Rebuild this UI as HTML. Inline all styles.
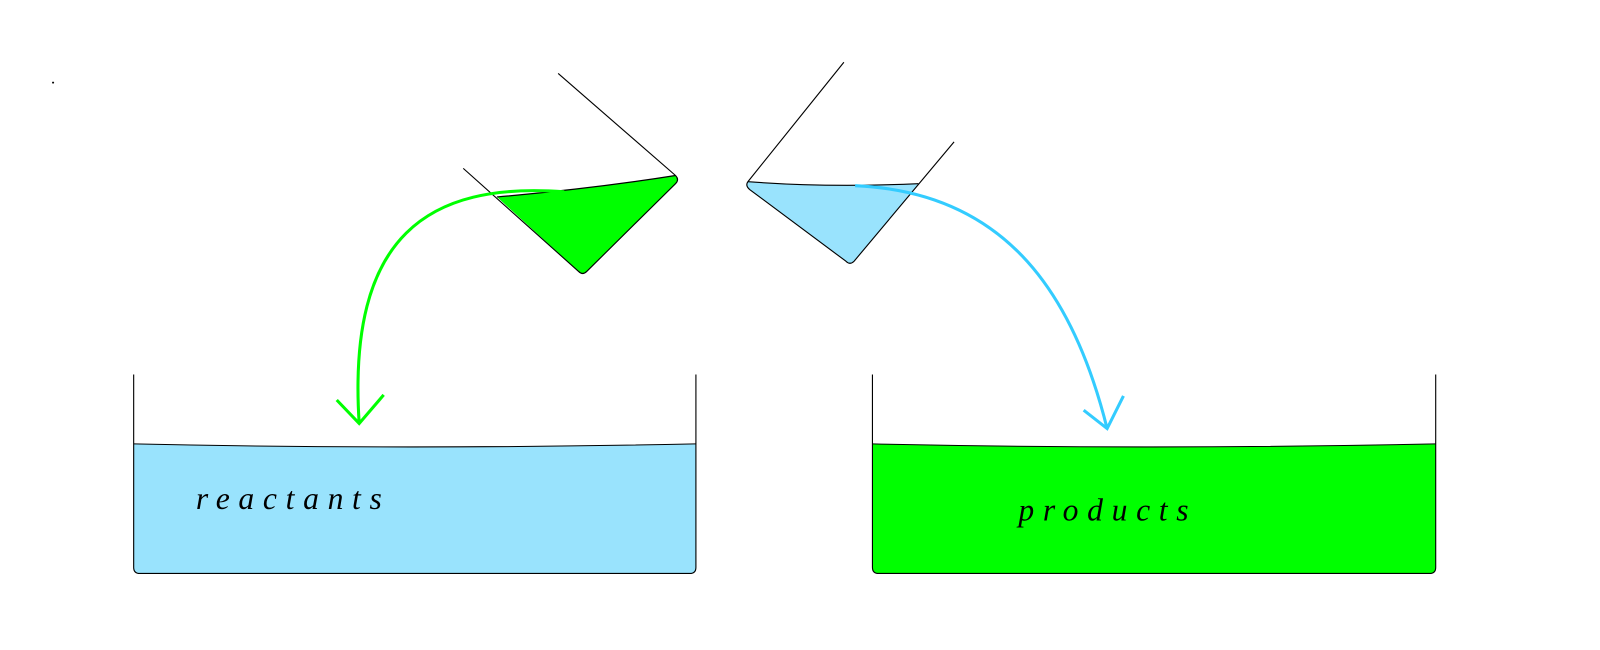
<!DOCTYPE html>
<html><head><meta charset="utf-8"><style>
html,body{margin:0;padding:0;background:#fff;}
svg{display:block;}
</style></head><body>
<svg width="1600" height="650" viewBox="0 0 1600 650" xmlns="http://www.w3.org/2000/svg">
<rect width="1600" height="650" fill="#fff"/>
<g transform="scale(1.0204)">
<circle cx="52" cy="81" r="1" fill="#000"/>
<path d="M487,193 Q580,185 662,172 Q666,176 662,180 L575,266 Q571,270 567,266 Z" fill="#00ff00"/>
<path d="M487,193 Q580,185 662,172" fill="none" stroke="#000" stroke-width="1.2"/>
<path d="M454,165 L567,266 Q571,270 575,266 L662,180 Q666,176 662,172 L547,72" fill="none" stroke="#000" stroke-width="1.1"/>
<path d="M733,178 Q810,184 900,180 L837,256 Q833,260 829,256 L735,186 Q730,182 733,178 Z" fill="#99e3fd"/>
<path d="M733,178 Q810,184 900,180" fill="none" stroke="#000" stroke-width="1.1"/>
<path d="M827,61 L733,178 Q730,182 735,186 L829,256 Q833,260 837,256 L935,139" fill="none" stroke="#000" stroke-width="1.1"/>
<path d="M553,188 C420,178 340,230 352,415" fill="none" stroke="#00ff00" stroke-width="3"/>
<path d="M330,392 L352,415 L376,387" fill="none" stroke="#00ff00" stroke-width="3"/>
<path d="M838,182 C980,188 1050,280 1085,420" fill="none" stroke="#33ccff" stroke-width="3"/>
<path d="M1062,402 L1085,420 L1101,388" fill="none" stroke="#33ccff" stroke-width="3"/>
<path d="M131,435 Q400,441 682,435 L682,556 Q682,562 676,562 L137,562 Q131,562 131,556 Z" fill="#99e3fd"/>
<path d="M131,435 Q400,441 682,435" fill="none" stroke="#000" stroke-width="1"/>
<path d="M131,367 L131,556 Q131,562 137,562 L676,562 Q682,562 682,556 L682,367" fill="none" stroke="#000" stroke-width="1.1"/>
<path d="M855,435 Q1130,441 1407,435 L1407,556 Q1407,562 1401,562 L861,562 Q855,562 855,556 Z" fill="#00ff00"/>
<path d="M855,435 Q1130,441 1407,435" fill="none" stroke="#000" stroke-width="1"/>
<path d="M855,367 L855,556 Q855,562 861,562 L1401,562 Q1407,562 1407,556 L1407,367" fill="none" stroke="#000" stroke-width="1.1"/>
<text x="192" y="499" font-family="Liberation Serif, serif" font-style="italic" font-size="31" letter-spacing="8.5" fill="#000">reactants</text>
<text x="998" y="510" font-family="Liberation Serif, serif" font-style="italic" font-size="31" letter-spacing="8.5" fill="#000">products</text>
</g>
</svg>
</body></html>
